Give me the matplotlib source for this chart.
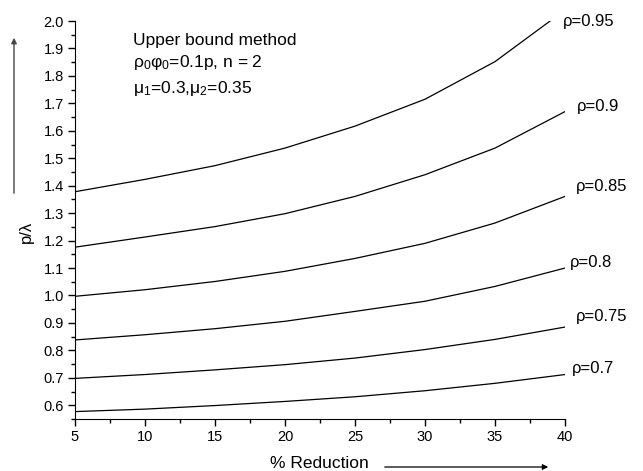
import matplotlib
matplotlib.use("Agg")
import matplotlib.pyplot as plt
from matplotlib.patches import FancyArrowPatch
from matplotlib.ticker import MultipleLocator

plt.rcParams['font.family'] = ['Liberation Sans', 'DejaVu Sans']
plt.rcParams['mathtext.fontset'] = 'custom'
plt.rcParams['mathtext.rm'] = 'Liberation Sans'
plt.rcParams['mathtext.it'] = 'Liberation Sans'

# % reduction values
reduction = [5, 10, 15, 20, 25, 30, 35, 40]

# p/lambda for each rho
p_095 = [1.378, 1.423, 1.473, 1.537, 1.617, 1.715, 1.852, 2.04]
p_090 = [1.176, 1.213, 1.251, 1.298, 1.361, 1.44, 1.537, 1.67]
p_085 = [0.997, 1.021, 1.051, 1.088, 1.135, 1.19, 1.264, 1.361]
p_080 = [0.838, 0.857, 0.879, 0.906, 0.942, 0.979, 1.033, 1.100]
p_075 = [0.698, 0.712, 0.729, 0.748, 0.772, 0.803, 0.84, 0.885]
p_070 = [0.577, 0.586, 0.599, 0.614, 0.631, 0.653, 0.68, 0.712]

curves = [p_095, p_090, p_085, p_080, p_075, p_070]
labels = ['ρ=0.95', 'ρ=0.9', 'ρ=0.85', 'ρ=0.8', 'ρ=0.75', 'ρ=0.7']
label_pos = [(39.85, 2.0), (40.85, 1.69), (40.8, 1.397),
             (40.35, 1.12), (40.8, 0.924), (40.5, 0.735)]

fig = plt.figure(figsize=(6.43, 4.71), dpi=100)
ax = fig.add_axes([0.1166, 0.1104, 0.7621, 0.845])

for vals, lab, pos in zip(curves, labels, label_pos):
    ax.plot(reduction, vals, color='black', linewidth=0.9)
    ax.text(pos[0], pos[1], lab, fontsize=12, va='center', ha='left', clip_on=False)

ax.set_xlim(5, 40)
ax.set_ylim(0.55, 2.0)
ax.xaxis.set_major_locator(MultipleLocator(5))
ax.xaxis.set_minor_locator(MultipleLocator(2.5))
ax.yaxis.set_major_locator(MultipleLocator(0.1))
ax.yaxis.set_minor_locator(MultipleLocator(0.05))
ax.yaxis.set_major_formatter(plt.FormatStrFormatter('%.1f'))
ax.tick_params(which='major', direction='out', length=5, width=1, labelsize=10.5, pad=3)
ax.tick_params(which='minor', direction='out', length=3, width=1)
ax.spines['top'].set_visible(False)
ax.spines['right'].set_visible(False)

# annotation block
def fig_xy(px, py):
    return px / 643, 1 - py / 471

for txt, py in [('Upper bound method', 40),
                ('ρ$_0$φ$_0$=0.1p, n = 2', 63),
                ('μ$_1$=0.3,μ$_2$=0.35', 88)]:
    fig.text(*fig_xy(133, py), txt, fontsize=12.5, ha='left', va='center')

# axis titles with arrows
fig.text(*fig_xy(319, 463), '% Reduction', fontsize=12.5, ha='center', va='center')
fig.text(*fig_xy(26, 232), 'p/λ', fontsize=12, ha='center', va='center', rotation=90)
fig.add_artist(FancyArrowPatch(fig_xy(382, 467), fig_xy(551, 467), transform=fig.transFigure,
                               arrowstyle='-|>', mutation_scale=8, color='black', linewidth=0.9))
fig.add_artist(FancyArrowPatch(fig_xy(14, 196), fig_xy(14, 35), transform=fig.transFigure,
                               arrowstyle='-|>', mutation_scale=8, color='#444444', linewidth=1.0))

fig.savefig('out.png', dpi=100)
